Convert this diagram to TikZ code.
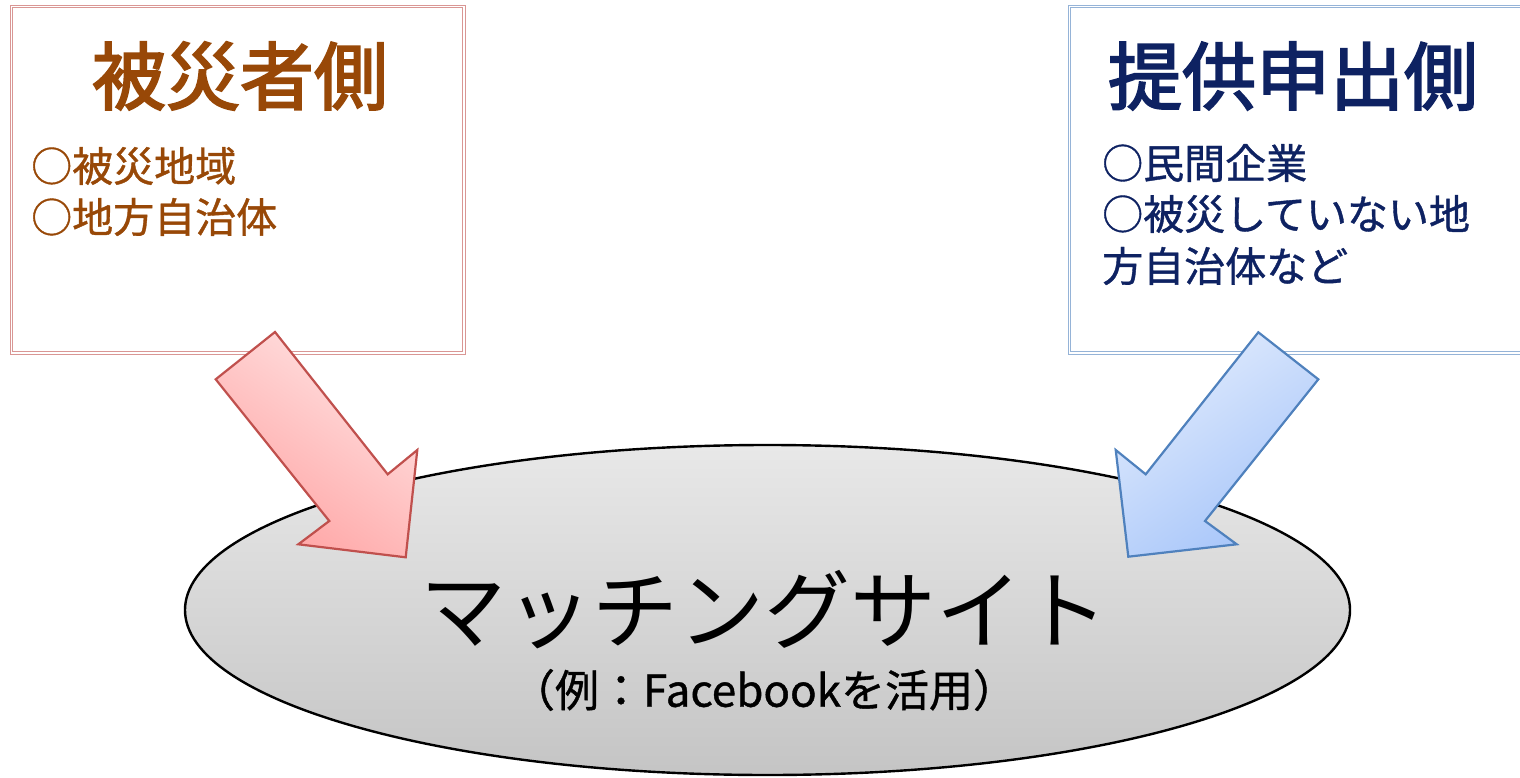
\documentclass[tikz,border=0pt]{standalone}
\usepackage{fontspec}
\newfontfamily\jp{Noto Sans CJK JP}
\newfontfamily\jpt[FakeBold=2.6]{Noto Sans CJK JP}
\newfontfamily\jpm[FakeBold=0.9]{Noto Sans CJK JP}
\usetikzlibrary{shapes.geometric}
\definecolor{brownT}{HTML}{984807}
\definecolor{navyT}{HTML}{0E2262}
\definecolor{redB}{HTML}{D99694}
\definecolor{blueB}{HTML}{95B3D7}
\definecolor{redS}{HTML}{C0504D}
\definecolor{blueS}{HTML}{4F81BD}
\definecolor{redL}{HTML}{FFE3E3}
\definecolor{redD}{HTML}{FFA3A3}
\definecolor{blueL}{HTML}{E2ECFD}
\definecolor{blueD}{HTML}{A5C4F9}
\tikzset{
  sidebox/.style={draw=#1, line width=1pt, fill=white},
  innerline/.style={draw=#1, line width=0.7pt},
  titletext/.style={font=\jpt\fontsize{74}{80}\selectfont, text=#1, inner sep=0pt},
  itemtext/.style={font=\jpm\fontsize{41}{50}\selectfont, text=#1, inner sep=0pt, anchor=west},
  blockarrow/.style={line width=2.2pt, line join=miter},
}
\begin{document}
\begin{tikzpicture}[x=1pt,y=-1pt]
\useasboundingbox (0,0) rectangle (1520,778);
\clip (0,0) rectangle (1520,778);
% side boxes
\node[sidebox=redB, minimum width=455pt, minimum height=349pt, anchor=north west] (lbox) at (10,5) {};
\draw[innerline=redB] (12.5,7.5) rectangle (462.5,351.5);
\node[sidebox=blueB, minimum width=455pt, minimum height=349pt, anchor=north west] (rbox) at (1068,5) {};
\draw[innerline=blueB] (1070.5,7.5) rectangle (1530,351.5);
% ellipse
\node[ellipse, draw=black, line width=2.4pt, top color=black!9, bottom color=black!23,
      minimum width=1165pt, minimum height=330pt, inner sep=0pt] (site) at (767.5,610) {};
% arrows
\path[blockarrow, draw=redS, left color=redL, right color=redD, shading angle=-35]
  (275,332) -- (215.7,379.3) -- (329.3,521) -- (298.3,544.3) -- (405.7,557.3)
  -- (417.3,450) -- (387.7,474.3) -- cycle;
\path[blockarrow, draw=blueS, left color=blueL, right color=blueD, shading angle=35]
  (1258.3,332.3) -- (1318.3,379.3) -- (1205,521) -- (1236.7,544.3) -- (1128.3,556.7)
  -- (1115.7,450) -- (1145.7,474.3) -- cycle;
% texts
\node[titletext=brownT] (ltitle) at (240,76) {被災者側};
\node[itemtext=brownT] (l1) at (31,166) {○被災地域};
\node[itemtext=brownT] (l2) at (31,217) {○地方自治体};
\node[titletext=navyT] (rtitle) at (1293,76) {提供申出側};
\node[itemtext=navyT] (r1) at (1102,163) {○民間企業};
\node[itemtext=navyT] (r2) at (1102,214) {○被災していない地};
\node[itemtext=navyT] (r3) at (1102,266) {方自治体など};
\node[font=\jp\fontsize{86}{90}\selectfont, inner sep=0pt] (main) at (764,610) {マッチングサイト};
\node[font=\jpm\fontsize{44}{48}\selectfont, inner sep=0pt] (sub) at (764,690) {（例：Facebookを活用）};
\end{tikzpicture}
\end{document}
